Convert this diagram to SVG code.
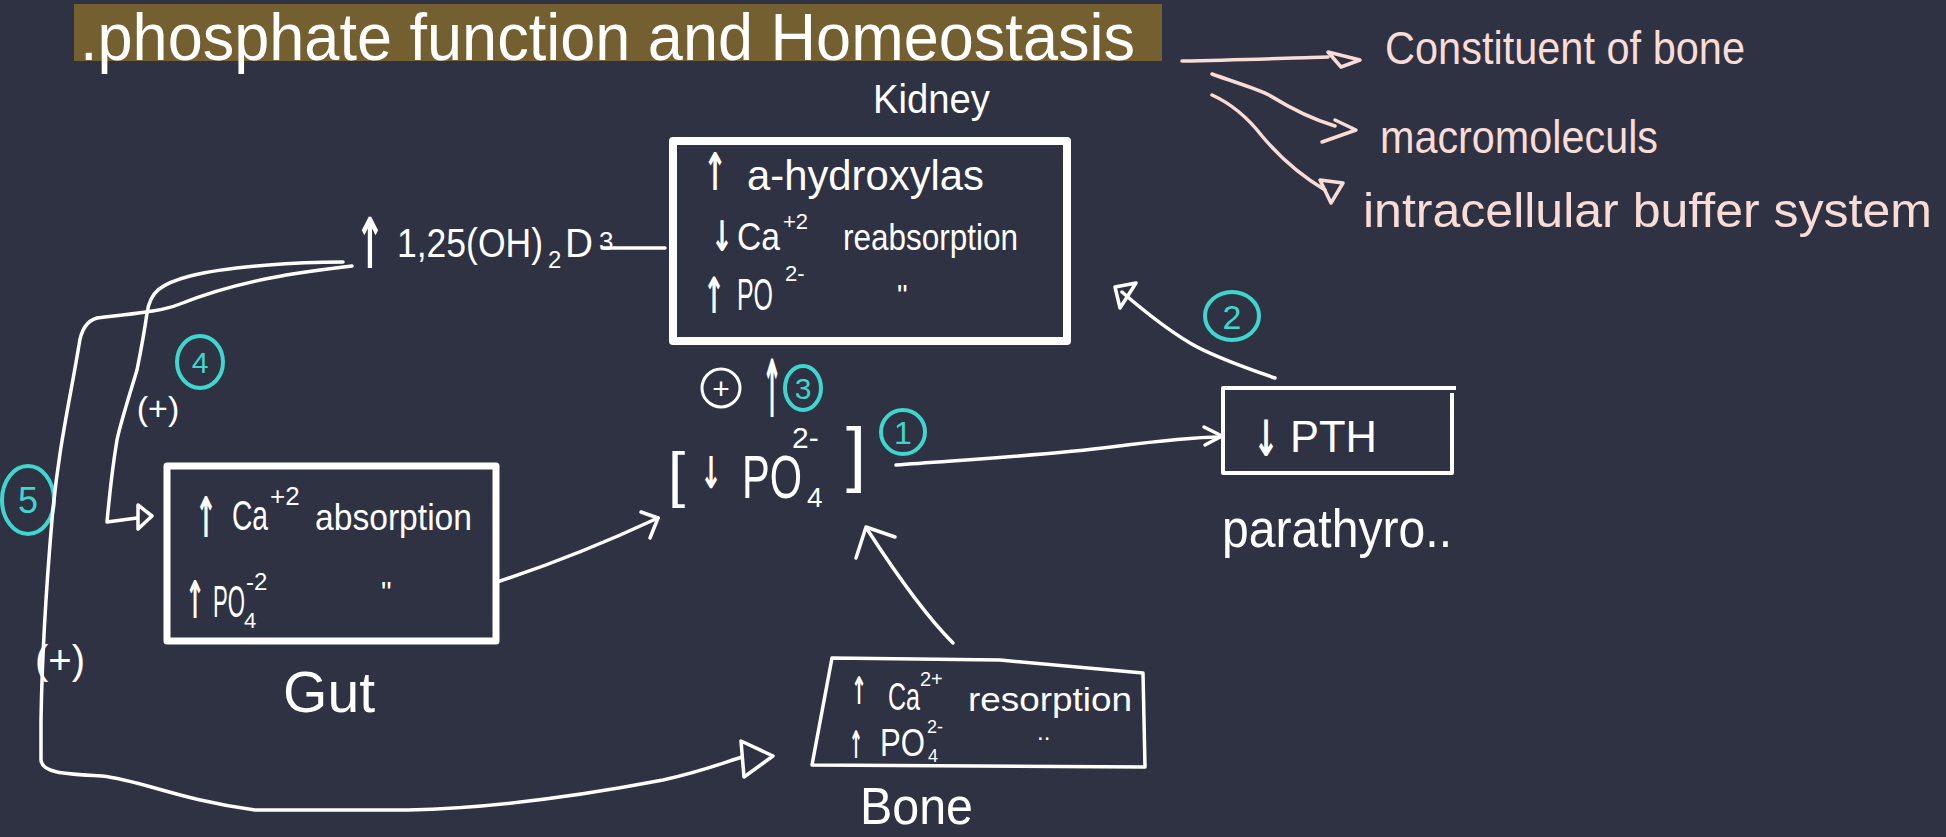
<svg xmlns="http://www.w3.org/2000/svg" width="1946" height="837" viewBox="0 0 1946 837">
<style>
text{font-family:"Liberation Sans","DejaVu Sans",sans-serif;fill:#ffffff}
.ar{font-family:"DejaVu Sans",sans-serif;font-weight:bold}
.pk{fill:#f9dcd6}
.cyt{fill:#3fd6cf}
.ln{fill:none;stroke:#ffffff;stroke-width:3.5;stroke-linecap:round;stroke-linejoin:round}
.pl{fill:none;stroke:#f9dcd6;stroke-width:3.5;stroke-linecap:round;stroke-linejoin:round}
.cy{fill:none;stroke:#3fd6cf;stroke-width:4}
.box{fill:none;stroke:#ffffff;stroke-linejoin:round}
</style>
<rect x="0" y="0" width="1946" height="837" fill="#2f3242"/>

<g id="title">
<rect x="74" y="4" width="1088" height="57" fill="#735f2f"/>
<text x="80" y="60" font-size="66" textLength="1055" lengthAdjust="spacingAndGlyphs">.phosphate function and Homeostasis</text>
</g>

<g id="functions">
<text class="pk" x="1385" y="64" font-size="46" textLength="360" lengthAdjust="spacingAndGlyphs">Constituent of bone</text>
<text class="pk" x="1380" y="153" font-size="46" textLength="278" lengthAdjust="spacingAndGlyphs">macromoleculs</text>
<text class="pk" x="1363" y="227" font-size="48" textLength="569" lengthAdjust="spacingAndGlyphs">intracellular buffer system</text>
</g>

<g id="kidney">
<text x="873" y="113" font-size="40" textLength="117" lengthAdjust="spacingAndGlyphs">Kidney</text>
<rect class="box" x="673" y="141" width="394" height="200" stroke-width="8"/>
<text class="ar" x="703" y="190" font-size="52" textLength="24" lengthAdjust="spacingAndGlyphs">↑</text>
<text x="747" y="190" font-size="42" textLength="237" lengthAdjust="spacingAndGlyphs">a-hydroxylas</text>
<text class="ar" x="711" y="251" font-size="42" textLength="22" lengthAdjust="spacingAndGlyphs">↓</text>
<text x="737" y="250" font-size="38" textLength="43" lengthAdjust="spacingAndGlyphs">Ca</text>
<text x="783" y="229" font-size="22">+2</text>
<text x="843" y="250" font-size="36" textLength="175" lengthAdjust="spacingAndGlyphs">reabsorption</text>
<text class="ar" x="703" y="313" font-size="50" textLength="22" lengthAdjust="spacingAndGlyphs">↑</text>
<text x="737" y="310" font-size="44" textLength="36" lengthAdjust="spacingAndGlyphs">PO</text>
<text x="785" y="281" font-size="22">2-</text>
<text x="897" y="305" font-size="30">"</text>
</g>

<g id="vitd">
<text class="ar" x="355" y="268" font-size="70" textLength="30" lengthAdjust="spacingAndGlyphs">↑</text>
<text x="397" y="257" font-size="40" textLength="146" lengthAdjust="spacingAndGlyphs">1,25(OH)</text>
<text x="548" y="268" font-size="24">2</text>
<text x="565" y="257" font-size="40" textLength="28" lengthAdjust="spacingAndGlyphs">D</text>
<text x="599" y="250" font-size="26">3</text>
</g>

<g id="gut">
<rect class="box" x="167" y="466" width="329" height="175" stroke-width="7"/>
<text class="ar" x="195" y="537" font-size="56" textLength="22" lengthAdjust="spacingAndGlyphs">↑</text>
<text x="232" y="530" font-size="42" textLength="36" lengthAdjust="spacingAndGlyphs">Ca</text>
<text x="270" y="505" font-size="26">+2</text>
<text x="315" y="530" font-size="36" textLength="157" lengthAdjust="spacingAndGlyphs">absorption</text>
<text class="ar" x="185" y="618" font-size="52" textLength="20" lengthAdjust="spacingAndGlyphs">↑</text>
<text x="213" y="617" font-size="44" textLength="32" lengthAdjust="spacingAndGlyphs">PO</text>
<text x="244" y="628" font-size="22">4</text>
<text x="246" y="590" font-size="24">-2</text>
<text x="381" y="602" font-size="30">"</text>
<text x="283" y="712" font-size="58" textLength="92" lengthAdjust="spacingAndGlyphs">Gut</text>
</g>

<g id="phosphate">
<text x="668" y="495" font-size="62">[</text>
<text class="ar" x="700" y="488" font-size="44" textLength="22" lengthAdjust="spacingAndGlyphs">↓</text>
<text x="742" y="498" font-size="62" textLength="60" lengthAdjust="spacingAndGlyphs">PO</text>
<text x="807" y="507" font-size="28">4</text>
<text x="792" y="448" font-size="30">2-</text>
<text x="846" y="478" font-size="72">]</text>
<ellipse class="cy" cx="903" cy="432" rx="22" ry="22"/>
<text class="cyt" x="903" y="444" font-size="32" text-anchor="middle">1</text>
<circle cx="721" cy="388" r="19" fill="none" stroke="#ffffff" stroke-width="3"/>
<text x="721" y="399" font-size="30" text-anchor="middle">+</text>
<text class="ar" x="762" y="417" font-size="80" textLength="20" lengthAdjust="spacingAndGlyphs">↑</text>
<ellipse class="cy" cx="803" cy="388" rx="18" ry="22"/>
<text class="cyt" x="803" y="399" font-size="30" text-anchor="middle">3</text>
</g>

<g id="pth">
<path class="box" d="M1452 393 L1452 473 L1223 473 L1223 388 L1456 388" stroke-width="4"/>
<text class="ar" x="1253" y="456" font-size="50" textLength="26" lengthAdjust="spacingAndGlyphs">↓</text>
<text x="1290" y="452" font-size="44" textLength="87" lengthAdjust="spacingAndGlyphs">PTH</text>
<text x="1222" y="547" font-size="54" textLength="230" lengthAdjust="spacingAndGlyphs">parathyro..</text>
</g>

<g id="bone">
<path class="box" d="M832 658 L1000 660 L1143 673 L1145 767 L812 765 Z" stroke-width="3.5"/>
<text class="ar" x="851" y="704" font-size="38" textLength="16" lengthAdjust="spacingAndGlyphs">↑</text>
<text x="888" y="710" font-size="38" textLength="32" lengthAdjust="spacingAndGlyphs">Ca</text>
<text x="920" y="686" font-size="20">2+</text>
<text x="968" y="711" font-size="34" textLength="164" lengthAdjust="spacingAndGlyphs">resorption</text>
<text class="ar" x="849" y="758" font-size="38" textLength="14" lengthAdjust="spacingAndGlyphs">↑</text>
<text x="880" y="756" font-size="38" textLength="45" lengthAdjust="spacingAndGlyphs">PO</text>
<text x="927" y="733" font-size="18">2-</text>
<text x="928" y="762" font-size="18">4</text>
<text x="1037" y="740" font-size="24">..</text>
<text x="860" y="824" font-size="52" textLength="113" lengthAdjust="spacingAndGlyphs">Bone</text>
</g>

<g id="labels">
<ellipse class="cy" cx="28" cy="500" rx="26" ry="34"/>
<text class="cyt" x="28" y="513" font-size="36" text-anchor="middle">5</text>
<ellipse class="cy" cx="200" cy="362" rx="23" ry="26"/>
<text class="cyt" x="200" y="373" font-size="30" text-anchor="middle">4</text>
<ellipse class="cy" cx="1232" cy="316" rx="27" ry="24"/>
<text class="cyt" x="1232" y="329" font-size="34" text-anchor="middle">2</text>
<text x="158" y="420" font-size="34" text-anchor="middle">(+)</text>
<text x="60" y="674" font-size="40" text-anchor="middle">(+)</text>
</g>

<g id="connectors">
<path class="pl" d="M1182 61 C1240 60 1290 58 1328 57"/>
<path class="pl" d="M1328 52 L1360 60 L1341 67 Z"/>
<path class="pl" d="M1212 74 C1240 84 1260 90 1269 95 C1290 108 1315 120 1335 126"/>
<path class="pl" d="M1335 120 L1356 130 L1322 142"/>
<path class="pl" d="M1212 95 C1232 104 1248 118 1262 136 C1282 160 1305 178 1325 190"/>
<path class="pl" d="M1320 180 L1343 183 L1331 203 Z"/>

<path class="ln" d="M602 248 L665 248"/>
<path class="ln" d="M343 262 C300 262 230 266 190 276 C160 284 150 292 147 313 C144 335 140 355 137 370 C128 400 120 425 117 440 C112 470 109 500 107 522 L137 518"/>
<path class="ln" d="M138 505 L152 516 L138 529 Z"/>
<path class="ln" d="M352 266 C300 272 240 280 180 304 C165 310 150 312 97 318 C86 321 81 330 79 345 C70 400 58 450 52 520 C46 590 42 660 41 720 L41 760 C42 772 60 774 102 776 C140 780 180 800 255 810 L408 810 C500 808 600 792 663 780 C700 772 720 764 742 757"/>
<path class="ln" d="M741 741 L773 756 L744 777 Z"/>
<path class="ln" d="M497 582 C540 568 600 545 658 518"/>
<path class="ln" d="M641 512 L658 518 L650 538"/>
<path class="ln" d="M896 465 C960 460 1050 455 1111 447 C1150 442 1190 437 1220 437"/>
<path class="ln" d="M1204 427 L1222 436 L1205 445"/>
<path class="ln" d="M953 643 C930 620 900 580 867 529"/>
<path class="ln" d="M856 558 L866 527 L895 537"/>
<path class="ln" d="M1275 378 C1240 366 1210 355 1190 343 C1165 328 1145 312 1122 292"/>
<path class="ln" d="M1115 287 L1136 283 L1120 308 Z"/>
</g>
</svg>
